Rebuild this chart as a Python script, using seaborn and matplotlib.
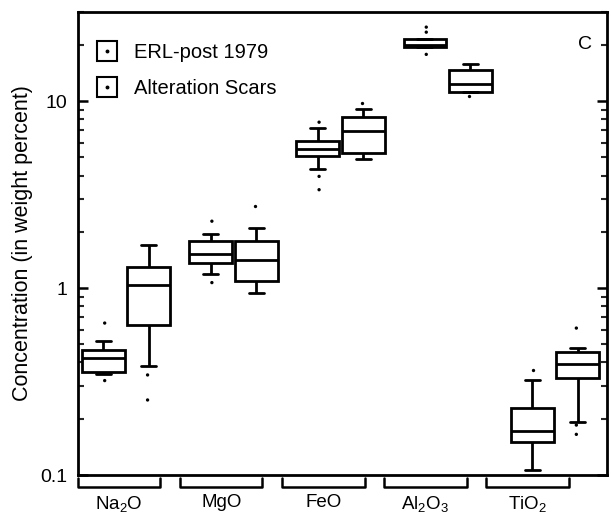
import numpy as np
import pandas as pd
import matplotlib
matplotlib.use("Agg")
import matplotlib.pyplot as plt
from matplotlib.lines import Line2D
from matplotlib.legend_handler import HandlerTuple
from matplotlib.ticker import FixedLocator, FixedFormatter, LogLocator, NullFormatter
import seaborn as sns

# ---------------- data ----------------
oxides = ["Na2O", "MgO", "FeO", "Al2O3", "TiO2"]
oxide_labels = [r"Na$_2$O", "MgO", "FeO", r"Al$_2$O$_3$", r"TiO$_2$"]
groups = ["ERL-post 1979", "Alteration Scars"]

# ERL-post 1979 : whisker low, Q1, median, Q3, whisker high
erl_lo = [0.347, 1.19, 4.31, 19.6, 0.107]
erl_q1 = [0.356, 1.366, 5.12, 19.6, 0.151]
erl_med = [0.422, 1.514, 5.52, 20.0, 0.171]
erl_q3 = [0.466, 1.784, 6.09, 21.5, 0.229]
erl_hi = [0.521, 1.95, 7.2, 21.5, 0.321]
erl_out_oxide = ["Na2O", "Na2O", "MgO", "MgO", "FeO", "FeO", "FeO", "Al2O3", "Al2O3", "Al2O3", "TiO2"]
erl_out_value = [0.65, 0.32, 2.28, 1.07, 7.72, 3.96, 3.36, 24.9, 23.4, 17.8, 0.366]

# Alteration Scars
alt_lo = [0.382, 0.944, 4.91, 11.17, 0.192]
alt_q1 = [0.634, 1.09, 5.27, 11.17, 0.331]
alt_med = [1.04, 1.42, 6.89, 12.38, 0.394]
alt_q3 = [1.29, 1.78, 8.21, 14.77, 0.455]
alt_hi = [1.71, 2.09, 9.03, 15.83, 0.478]
alt_out_oxide = ["Na2O", "Na2O", "MgO", "FeO", "Al2O3", "TiO2", "TiO2", "TiO2"]
alt_out_value = [0.343, 0.252, 2.74, 9.76, 10.6, 0.611, 0.185, 0.165]

# ---------------- tables ----------------
rows = []
for grp, arrs in [(groups[0], (erl_lo, erl_q1, erl_med, erl_q3, erl_hi)),
                  (groups[1], (alt_lo, alt_q1, alt_med, alt_q3, alt_hi))]:
    for i, ox in enumerate(oxides):
        for a in arrs:
            rows.append({"oxide": ox, "group": grp, "value": a[i]})
box_df = pd.DataFrame(rows)

out_df = pd.DataFrame(
    {"oxide": erl_out_oxide + alt_out_oxide,
     "group": [groups[0]] * len(erl_out_oxide) + [groups[1]] * len(alt_out_oxide),
     "value": erl_out_value + alt_out_value})

# ---------------- figure ----------------
sns.set_theme(style="white")
plt.rcParams["font.family"] = ["Liberation Sans", "DejaVu Sans"]
plt.rcParams["mathtext.default"] = "regular"
plt.rcParams["text.color"] = "black"
plt.rcParams["axes.labelcolor"] = "black"

fig = plt.figure(figsize=(6.11, 5.29), dpi=100)
ax = fig.add_axes([78 / 611, 1 - 475 / 529, 529 / 611, 463 / 529])
ax.set_yscale("log")

sns.boxplot(data=box_df, x="oxide", y="value", hue="group", order=oxides,
            hue_order=groups, palette={g: "white" for g in groups},
            linecolor="black", linewidth=2.0, width=0.85, gap=0.06,
            whis=(0, 100), showfliers=False, capwidths=0.14,
            legend=False, ax=ax)
sns.stripplot(data=out_df, x="oxide", y="value", hue="group", order=oxides,
              hue_order=groups, palette={g: "black" for g in groups},
              dodge=True, jitter=False, size=2.4, linewidth=0,
              legend=False, ax=ax)

ax.set_xlim(-0.449, 4.486)
ax.set_ylim(0.1, 30)

# y ticks
ax.yaxis.set_major_locator(FixedLocator([0.1, 1, 10]))
ax.yaxis.set_major_formatter(FixedFormatter(["0.1", "1", "10"]))
ax.yaxis.set_minor_locator(LogLocator(base=10, subs=np.arange(2, 10)))
ax.yaxis.set_minor_formatter(NullFormatter())
ax.tick_params(axis="y", which="major", direction="in", length=7, width=1.8,
               labelsize=14, left=True, right=True, pad=8, colors="black")
ax.tick_params(axis="y", which="minor", direction="in", length=4, width=1.5,
               left=True, right=True)

# x labels under brackets
tick_pos = [i * 0.952 - 0.065 for i in range(len(oxides))]
ax.set_xticks(tick_pos)
ax.set_xticklabels(oxide_labels, fontsize=13.5, color="black")
ax.tick_params(axis="x", length=0, pad=14)
ax.set_xlabel("")
ax.set_ylabel("Concentration (in weight percent)", fontsize=15.5, labelpad=5,
              color="black")

trans = ax.get_xaxis_transform()
half = 0.385
for p in tick_pos:
    ax.plot([p - half, p - half, p + half, p + half], [-0.006, -0.025, -0.025, -0.006],
            color="black", lw=1.8, transform=trans, clip_on=False)

for s in ax.spines.values():
    s.set_visible(True)
    s.set_color("black")
    s.set_linewidth(2.0)

ax.text(0.958, 0.93, "C", transform=ax.transAxes, fontsize=14,
        ha="center", va="center", color="black")

# legend
h = (Line2D([], [], ls="none", marker="s", markersize=15, mfc="white",
            mec="black", mew=1.5),
     Line2D([], [], ls="none", marker="o", markersize=1.8, color="black"))
ax.legend([h, h], groups, handler_map={tuple: HandlerTuple(ndivide=1, pad=0)},
          loc="upper left", bbox_to_anchor=(0.02, 0.95), frameon=False,
          fontsize=14.5, handlelength=1.0, handletextpad=0.85, labelspacing=0.85,
          borderaxespad=0, labelcolor="black")

fig.savefig("out.png", dpi=100)
